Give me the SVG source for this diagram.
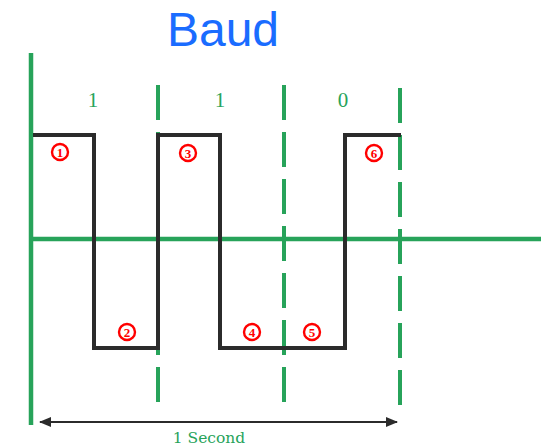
<svg xmlns="http://www.w3.org/2000/svg" width="551" height="447" viewBox="0 0 551 447">
  <style>
    .axis { stroke: #27a35a; stroke-width: 4.5; fill: none; }
    .tick { stroke: #27a35a; stroke-width: 4; fill: none; stroke-dasharray: 35 12; }
    .wave { stroke: #2b2b2b; stroke-width: 4; fill: none; stroke-linejoin: miter; }
    .bit { font-family: "Liberation Serif", "DejaVu Serif", serif; font-size: 21px; fill: #27a35a; text-anchor: middle; }
    .mark circle { fill: #ffffff; stroke: #ff0000; stroke-width: 2.4; }
    .mark text { font-family: "Liberation Serif", serif; font-size: 13px; font-weight: bold; fill: #ff0000; text-anchor: middle; }
    .title { font-family: "Liberation Sans", Arial, sans-serif; font-size: 48px; fill: #1a6cff; text-anchor: middle; }
    .caption { font-family: "DejaVu Serif", "Liberation Serif", serif; font-size: 15.5px; fill: #27a35a; text-anchor: middle; }
  </style>
  <defs>
    <marker id="arrow" viewBox="0 0 12 10" refX="11" refY="5" markerWidth="12" markerHeight="10" markerUnits="userSpaceOnUse" orient="auto-start-reverse">
      <path d="M0,0 L12,5 L0,10 z" fill="#2b2b2b"/>
    </marker>
  </defs>

  <rect width="551" height="447" fill="#ffffff"/>

  <text id="title" class="title" x="223" y="46">Baud</text>

  <!-- axes and bit-boundary ticks -->
  <g id="grid">
    <line class="axis" x1="31" y1="53" x2="31" y2="425"/>
    <line class="axis" x1="33" y1="239" x2="541" y2="239"/>
    <line class="tick" x1="158" y1="85" x2="158" y2="402"/>
    <line class="tick" x1="284" y1="85" x2="284" y2="402"/>
    <line class="tick" x1="400" y1="88" x2="400" y2="405"/>
  </g>

  <!-- bit values -->
  <g id="bits">
    <text class="bit" x="93" y="107">1</text>
    <text class="bit" x="220" y="107">1</text>
    <text class="bit" x="343" y="107">0</text>
  </g>

  <!-- signal -->
  <g id="signal">
    <polyline class="wave" points="33,135 94,135 94,348 158,348 158,135 220,135 220,348 345,348 345,135 401,135"/>
  </g>

  <!-- signal element markers -->
  <g id="m1" class="mark"><circle cx="60" cy="152" r="8"/><text x="60" y="156.5">1</text></g>
  <g id="m2" class="mark"><circle cx="127" cy="332" r="8"/><text x="127" y="336.5">2</text></g>
  <g id="m3" class="mark"><circle cx="188" cy="153" r="8"/><text x="188" y="157.5">3</text></g>
  <g id="m4" class="mark"><circle cx="252" cy="332" r="8"/><text x="252" y="336.5">4</text></g>
  <g id="m5" class="mark"><circle cx="312" cy="332" r="8"/><text x="312" y="336.5">5</text></g>
  <g id="m6" class="mark"><circle cx="374" cy="153" r="8"/><text x="374" y="157.5">6</text></g>

  <!-- duration span -->
  <g id="connectors">
    <line x1="40" y1="422" x2="397" y2="422" stroke="#2b2b2b" stroke-width="1.8" marker-start="url(#arrow)" marker-end="url(#arrow)"/>
  </g>
  <text id="caption" class="caption" x="209" y="443">1 Second</text>
</svg>
